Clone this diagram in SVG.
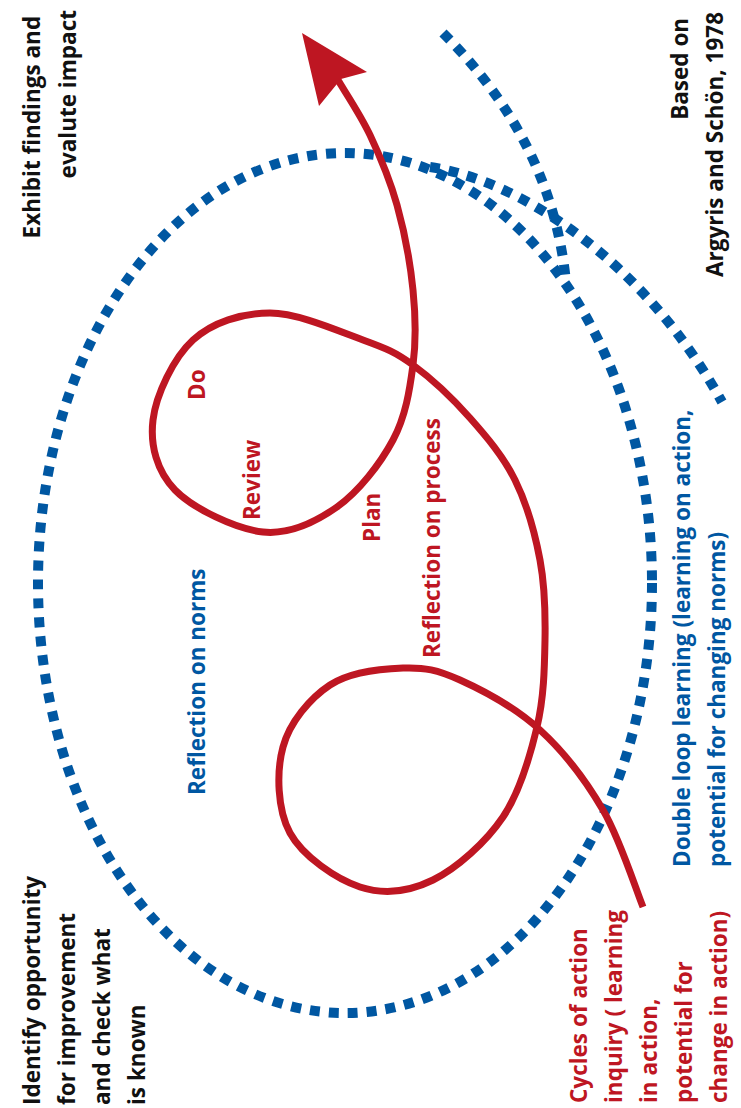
<svg xmlns="http://www.w3.org/2000/svg" width="741" height="1108" viewBox="0 0 741 1108">
  <style>
    .lbl { font-family: "Open Sans", "Noto Sans", "Liberation Sans", sans-serif; font-weight: 700; font-size: 22.5px; }
    .black { fill: #111111; }
    .red { fill: #be1622; }
    .blue { fill: #0057a2; }
    .dots { fill: none; stroke: #0057a2; stroke-width: 10; stroke-dasharray: 10 9; }
    .spiral { fill: none; stroke: #be1622; stroke-width: 7; stroke-linecap: butt; }
  </style>
  <rect width="741" height="1108" fill="#ffffff"/>

  <g id="loops">
    <!-- outer dotted loop -->
    <ellipse id="outer-loop" class="dots" cx="345" cy="583" rx="307" ry="430"/>
    <!-- second loop strands -->
    <path id="strand-upper" class="dots" d="M443,33 C500,90 555,170 566,282"/>
    <path id="strand-lower" class="dots" d="M430,167 C520,180 645,262 722,402"/>
  </g>

  <g id="connectors">
    <path id="spiral" class="spiral" d="M643,907
      C636.3,890.8 620.2,839.5 603,810
      C585.8,780.5 563.8,751.7 540,730
      C516.2,708.3 482.8,690.3 460,680
      C437.2,669.7 424.7,667.2 403,668
      C381.3,668.8 350,671.8 330,685
      C310,698.2 289.7,722.3 283,747
      C276.3,771.7 277.2,809.7 290,833
      C302.8,856.3 336.2,879.2 360,887
      C383.8,894.8 409.2,891.7 433,880
      C456.8,868.3 485.7,842.5 503,817
      C520.3,791.5 530,756.5 537,727
      C544,697.5 544.5,667.8 545,640
      C545.5,612.2 545,586.7 540,560
      C535,533.3 526.7,503.7 515,480
      C503.3,456.3 487,437.2 470,418
      C453,398.8 430.8,378 413,365
      C395.2,352 386.8,348.7 363,340
      C339.2,331.3 298.3,313 270,313
      C241.7,313 212.5,322.2 193,340
      C173.5,357.8 156,395 153,420
      C150,445 156.7,471.3 175,490
      C193.3,508.7 236,529.2 263,532
      C290,534.8 315.3,522.3 337,507
      C358.7,491.7 380.3,463.7 393,440
      C405.7,416.3 409.7,390 413,365
      C416.3,340 415.7,316.7 413,290
      C410.3,263.3 404.2,230.8 397,205
      C389.8,179.2 379.8,155.8 370,135
      C360.2,114.2 343.3,89.2 338,80"/>
    <polygon id="arrowhead" fill="#be1622" points="302,33 367,72 341,79 319,106"/>
  </g>

  <g id="label-identify">
    <text class="lbl black" transform="rotate(-90)">
      <tspan x="-1105" y="40">Identify opportunity</tspan>
      <tspan x="-1105" y="75">for improvement</tspan>
      <tspan x="-1105" y="110">and check what</tspan>
      <tspan x="-1105" y="145">is known</tspan>
    </text>
  </g>

  <g id="label-exhibit">
    <text class="lbl black" transform="rotate(-90)" text-anchor="end">
      <tspan x="-10" y="40">Exhibit findings and</tspan>
      <tspan x="-10" y="76">evalute impact</tspan>
    </text>
  </g>

  <g id="label-source">
    <text class="lbl black" transform="rotate(-90)" text-anchor="end">
      <tspan x="-12" y="688">Based on</tspan>
      <tspan x="-12" y="723">Argyris and Schön, 1978</tspan>
    </text>
  </g>

  <g id="label-cycles">
    <text class="lbl red" transform="rotate(-90)">
      <tspan x="-1103" y="587">Cycles of action</tspan>
      <tspan x="-1103" y="622">inquiry ( learning</tspan>
      <tspan x="-1103" y="657">in action,</tspan>
      <tspan x="-1103" y="692">potential for</tspan>
      <tspan x="-1103" y="727">change in action)</tspan>
    </text>
  </g>

  <g id="label-double-loop">
    <text class="lbl blue" transform="rotate(-90)">
      <tspan x="-867" y="690">Double loop learning (learning on action,</tspan>
      <tspan x="-867" y="725">potential for changing norms)</tspan>
    </text>
  </g>

  <g id="label-norms">
    <text class="lbl blue" transform="rotate(-90)" x="-795" y="205">Reflection on norms</text>
  </g>
  <g id="label-do">
    <text class="lbl red" transform="rotate(-90)" x="-400" y="205">Do</text>
  </g>
  <g id="label-review">
    <text class="lbl red" transform="rotate(-90)" x="-520" y="260">Review</text>
  </g>
  <g id="label-plan">
    <text class="lbl red" transform="rotate(-90)" x="-542" y="380">Plan</text>
  </g>
  <g id="label-process">
    <text class="lbl red" transform="rotate(-90)" x="-658" y="440">Reflection on process</text>
  </g>
</svg>
